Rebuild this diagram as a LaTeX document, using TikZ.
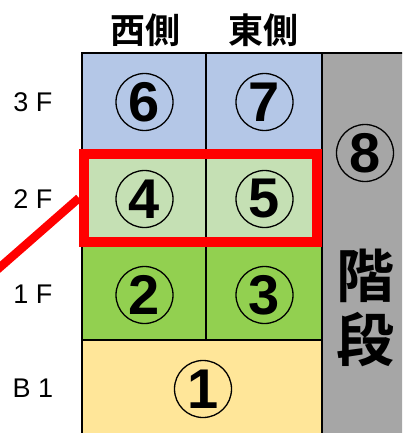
\documentclass[tikz,border=0pt]{standalone}
\usepackage{fontspec}
\setmainfont{Liberation Sans}
\newfontfamily\cjk{Noto Sans CJK JP}[BoldFont={* Bold}]
\definecolor{blue3}{HTML}{B4C7E7}
\definecolor{green2}{HTML}{C5E0B4}
\definecolor{green1}{HTML}{92D050}
\definecolor{yellowb}{HTML}{FFE699}
\definecolor{grayst}{HTML}{A6A6A6}
\definecolor{redhl}{HTML}{FF0000}
\tikzset{
  cell/.style={draw=black, line width=1.6pt, rectangle, inner sep=0pt},
  num/.style={draw=black, circle, line width=1.3pt, minimum size=57pt, inner sep=0pt,
    font=\fontsize{56}{60}\selectfont\bfseries},
  head/.style={font=\cjk\bfseries\fontsize{35}{40}\selectfont, inner sep=0pt},
  stair/.style={font=\cjk\bfseries\fontsize{58}{60}\selectfont, inner sep=0pt},
  floor/.style={font=\fontsize{27}{30}\selectfont, inner sep=0pt},
  hlbox/.style={draw=redhl, line width=10pt, rectangle, inner sep=0pt, minimum width=233pt, minimum height=88pt},
  hlline/.style={draw=redhl, line width=8.5pt}
}
\begin{document}
\begin{tikzpicture}[x=1pt,y=-1pt]
\useasboundingbox (0,0) rectangle (402,433);
\clip (0,0) rectangle (402,433);
% cells
\node[cell, fill=blue3, minimum width=124pt, minimum height=97pt] (c6) at (144,101.5) {};
\node[cell, fill=blue3, minimum width=116pt, minimum height=97pt] (c7) at (264,101.5) {};
\node[cell, fill=green2, minimum width=124pt, minimum height=95pt] (c4) at (144,197.5) {};
\node[cell, fill=green2, minimum width=116pt, minimum height=95pt] (c5) at (264,197.5) {};
\node[cell, fill=green1, minimum width=124pt, minimum height=95pt] (c2) at (144,292.5) {};
\node[cell, fill=green1, minimum width=116pt, minimum height=95pt] (c3) at (264,292.5) {};
\node[cell, fill=yellowb, minimum width=240pt, minimum height=100pt] (c1) at (202,390) {};
\node[cell, fill=grayst, minimum width=86pt, minimum height=390pt] (st) at (365,248) {};
% numbers
\node[num] (n6) at (144.5,102) {6};
\node[num] (n7) at (264.5,102) {7};
\node[num] (n4) at (144.5,199) {4};
\node[num] (n5) at (264.5,199) {5};
\node[num] (n2) at (144.5,295) {2};
\node[num] (n3) at (264.5,295) {3};
\node[num] (n1) at (203,389) {1};
\node[num] (n8) at (365,153) {8};
% stairs text
\node[stair] (k1) at (365,276) {階};
\node[stair] (k2) at (365,340) {段};
% headers
\node[head] (hw) at (145,30) {西側};
\node[head] (he) at (263,30) {東側};
% floor labels
\node[floor] (f3) at (33,102) {3 F};
\node[floor] (f2) at (33,199) {2 F};
\node[floor] (f1) at (33,294) {1 F};
\node[floor] (fb) at (33,388) {B 1};
% highlight
\node[hlbox] (hl) at (200.5,198) {};
\coordinate (lend) at (-10,276);
\draw[hlline] (hl.west) -- (lend);
\end{tikzpicture}
\end{document}
